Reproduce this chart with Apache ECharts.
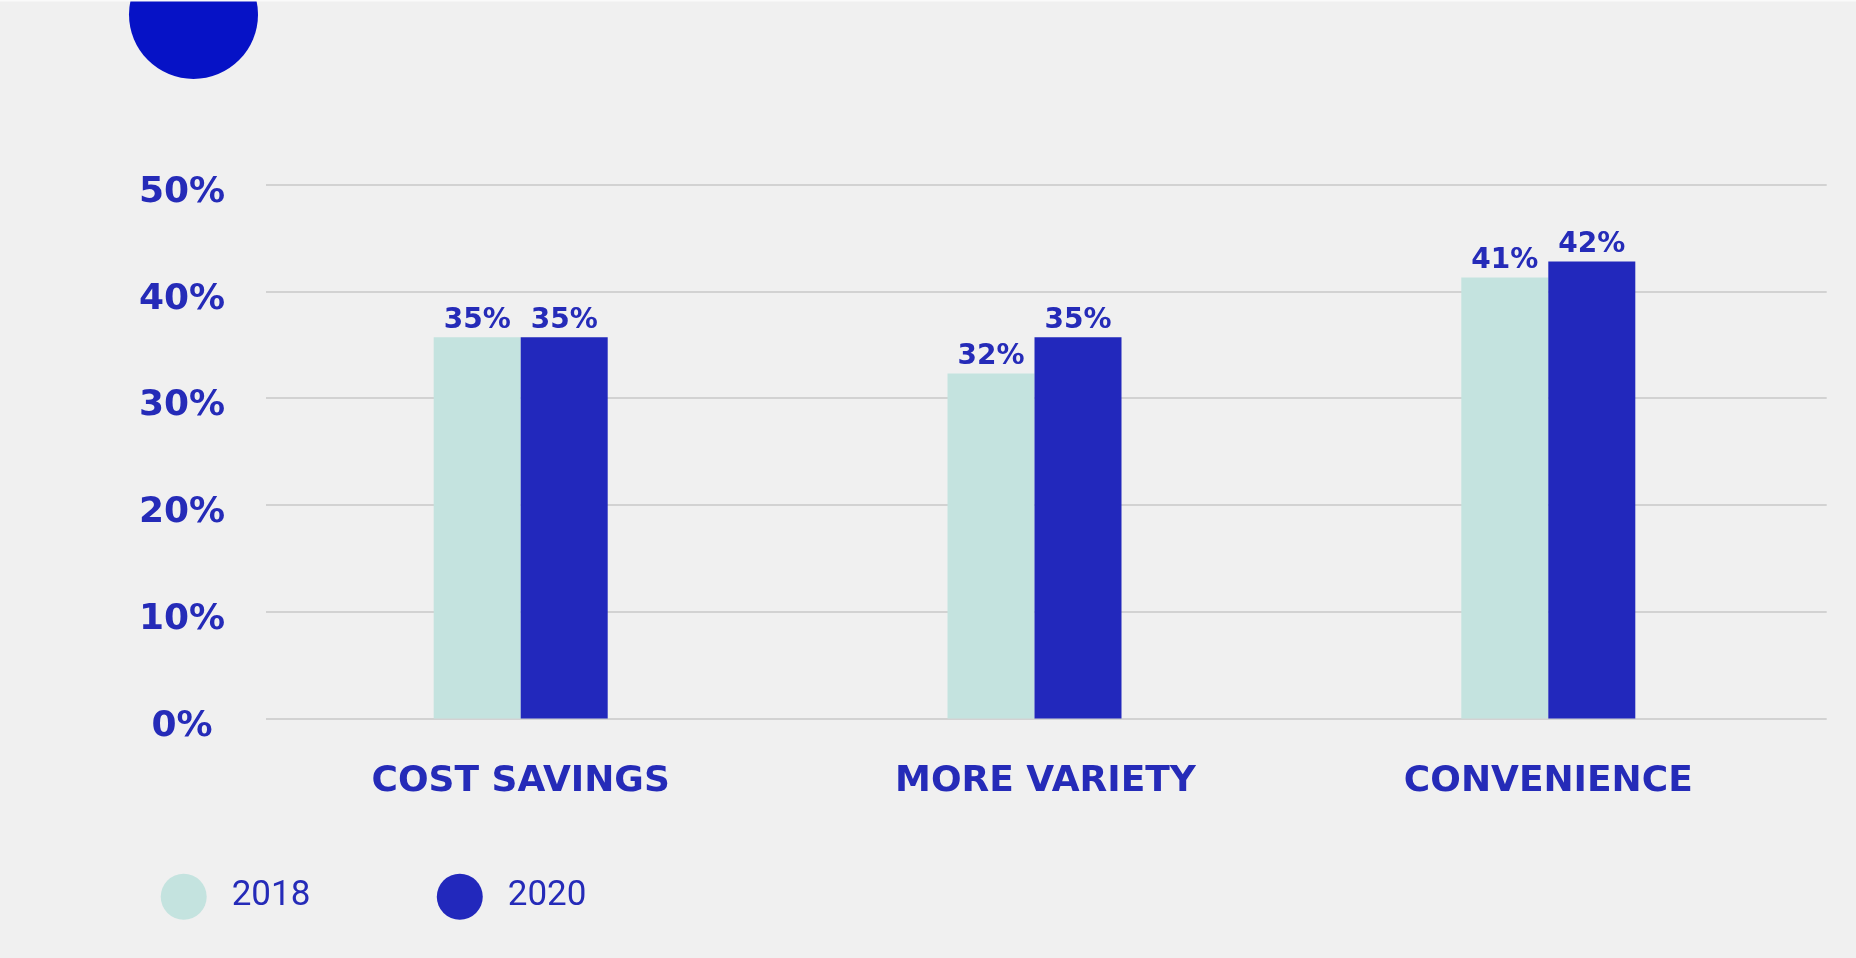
<!DOCTYPE html>
<html>
<head>
<meta charset="utf-8">
<script src="https://cdn.jsdelivr.net/npm/echarts@6/dist/echarts.min.js"></script>
<style>
  html, body { margin: 0; padding: 0; background: #f0f0f0; }
  #chart { width: 1856px; height: 958px; }
</style>
</head>
<body>
<div id="chart"></div>
<script>
// ---- data ----
const categories = ['COST SAVINGS', 'MORE VARIETY', 'CONVENIENCE'];
const seriesNames = ['2018', '2020'];
const values2018 = [35.7, 32.3, 41.3];
const values2020 = [35.7, 35.7, 42.8];
const labels2018 = ['35%', '32%', '41%'];
const labels2020 = ['35%', '35%', '42%'];
const yTicks = { min: 0, max: 50, interval: 10 };

// ---- style ----
const BLUE = '#2228BC';
const TEXT_BLUE = '#252BB8';
const MINT = '#C4E3DF';
const GRID_TOP = 184.5;
const GRID_BOTTOM = 239.5;
const CAT_FONT = { fontFamily: 'DejaVu Sans', fontWeight: 'bold', fontSize: 36, lineHeight: 36, color: TEXT_BLUE };

const chart = echarts.init(document.getElementById('chart'));

const option = {
  backgroundColor: '#f0f0f0',
  animation: false,
  graphic: [
    { type: 'circle', shape: { cx: 193.5, cy: 14.5, r: 64.5 }, style: { fill: '#0612C6' }, z: 10 },
    { type: 'rect', shape: { x: 0, y: 0, width: 1856, height: 1.5 }, style: { fill: '#fafafa' }, z: 11 }
  ],
  legend: {
    data: seriesNames,
    left: 155.7,
    top: 868.7,
    icon: 'circle',
    itemWidth: 46,
    itemHeight: 46,
    itemGap: 126.4,
    textStyle: {
      fontFamily: 'Roboto',
      fontSize: 35,
      color: TEXT_BLUE,
      padding: [0, 0, 0, 20]
    }
  },
  grid: [
    { left: 266, right: 29.3, top: GRID_TOP, bottom: GRID_BOTTOM },
    { left: 263.8, right: 50.8, top: GRID_TOP, bottom: GRID_BOTTOM }
  ],
  xAxis: [
    { gridIndex: 0, type: 'value', show: false, min: 0, max: 1 },
    {
      gridIndex: 1,
      type: 'category',
      data: categories,
      axisLine: { show: false },
      axisTick: { show: false },
      axisLabel: {
        margin: 45,
        formatter: (v, i) => '{c' + i + '|' + v + '}',
        rich: {
          c0: Object.assign({}, CAT_FONT),
          c1: Object.assign({ padding: [0, 0, 0, 22] }, CAT_FONT),
          c2: Object.assign({}, CAT_FONT)
        }
      }
    }
  ],
  yAxis: [
    {
      gridIndex: 0,
      type: 'value',
      min: yTicks.min,
      max: yTicks.max,
      interval: yTicks.interval,
      axisLine: { show: false },
      axisTick: { show: false },
      splitLine: { show: true, lineStyle: { color: '#d2d2d2', width: 2 } },
      axisLabel: {
        formatter: '{value}%',
        fontFamily: 'DejaVu Sans',
        fontWeight: 'bold',
        fontSize: 36,
        lineHeight: 16,
        color: TEXT_BLUE,
        align: 'center',
        verticalAlign: 'top',
        margin: 84
      }
    },
    {
      gridIndex: 1,
      type: 'value',
      min: yTicks.min,
      max: yTicks.max,
      interval: yTicks.interval,
      show: false,
      splitLine: { show: false }
    }
  ],
  series: [
    {
      name: seriesNames[0],
      type: 'bar',
      xAxisIndex: 1,
      yAxisIndex: 1,
      data: values2018,
      barWidth: 87,
      barGap: '0%',
      itemStyle: { color: MINT },
      label: {
        show: true,
        position: 'top',
        distance: 3,
        formatter: p => labels2018[p.dataIndex],
        fontFamily: 'DejaVu Sans',
        fontWeight: 'bold',
        fontSize: 28,
        color: TEXT_BLUE
      }
    },
    {
      name: seriesNames[1],
      type: 'bar',
      xAxisIndex: 1,
      yAxisIndex: 1,
      data: values2020,
      barWidth: 87,
      barGap: '0%',
      itemStyle: { color: BLUE },
      label: {
        show: true,
        position: 'top',
        distance: 3,
        formatter: p => labels2020[p.dataIndex],
        fontFamily: 'DejaVu Sans',
        fontWeight: 'bold',
        fontSize: 28,
        color: TEXT_BLUE
      }
    }
  ]
};

chart.setOption(option);
</script>
</body>
</html>
